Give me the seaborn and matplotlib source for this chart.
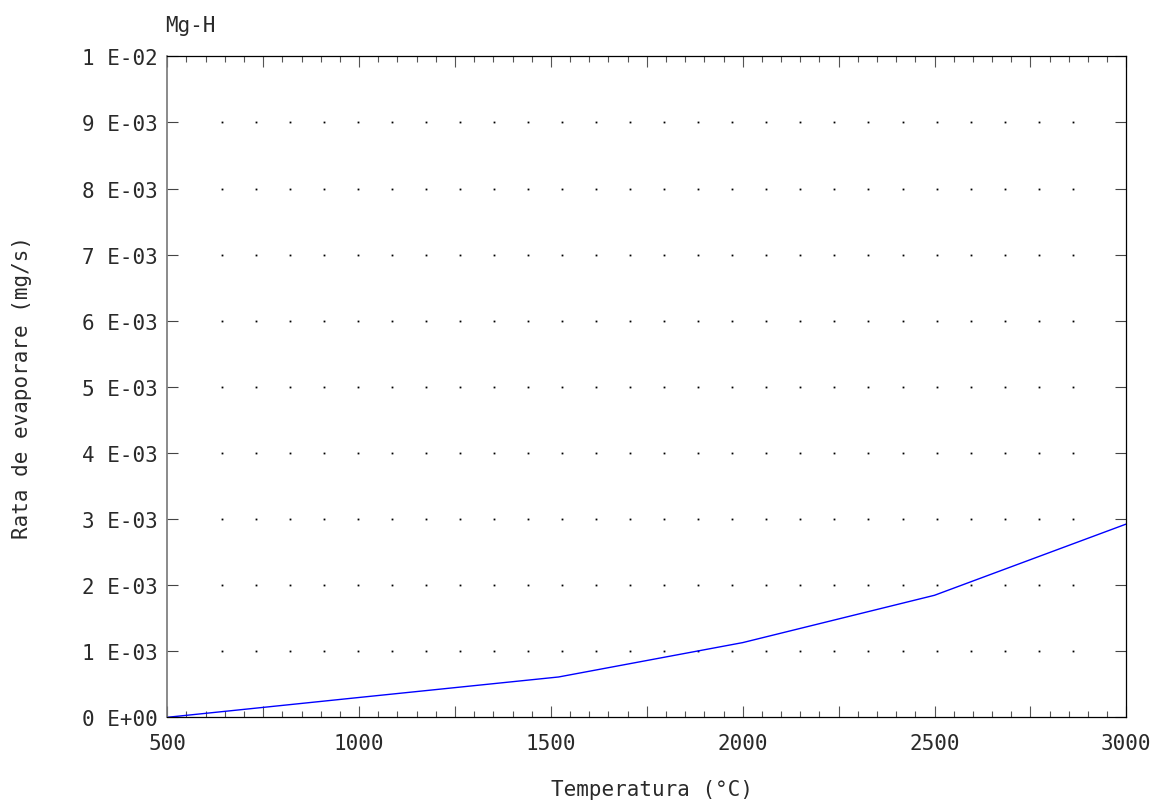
import numpy as np
import pandas as pd
import matplotlib
matplotlib.use("Agg")
import matplotlib.pyplot as plt
from matplotlib.ticker import MultipleLocator, FixedLocator, FuncFormatter
import seaborn as sns

# Evaporation rate of Mg-H versus temperature
temperature = [500, 1000, 1520, 2000, 2500, 3000]          # °C
evap_rate = [0.0, 0.30e-3, 0.61e-3, 1.13e-3, 1.846e-3, 2.924e-3]  # mg/s

title = "Mg-H"
x_label = "Temperatura (°C)"
y_label = "Rata de evaporare (mg/s)"
y_tick_values = [i * 1e-3 for i in range(11)]
y_tick_labels = ["0 E+00", "1 E-03", "2 E-03", "3 E-03", "4 E-03", "5 E-03",
                 "6 E-03", "7 E-03", "8 E-03", "9 E-03", "1 E-02"]
x_tick_values = [500, 1000, 1500, 2000, 2500, 3000]

sns.set_theme(style="white")
plt.rcParams["font.family"] = ["DejaVu Sans Mono", "DejaVu Sans"]

text_color = "#2a2a2a"
W, H = 1154, 803
fig = plt.figure(figsize=(W / 100, H / 100), dpi=100)
ax = fig.add_axes([167.3 / W, 1 - 718.3 / H, 959 / W, 661 / H])

df = pd.DataFrame({"T": temperature, "rate": evap_rate})
sns.lineplot(data=df, x="T", y="rate", ax=ax, color="#0000ff", linewidth=1.0)

# dotted reference grid at the major y levels
grid_x = np.linspace(643, 2860, 26)
gx, gy = np.meshgrid(grid_x, y_tick_values[1:-1])
ax.plot(gx.ravel(), gy.ravel(), linestyle="none", marker="s", ms=1.3,
        mew=0, color="black", zorder=1)

ax.set_xlim(500, 3000)
ax.set_ylim(0, 1e-2)

# x ticks: long every 250, short every 50, labels every 500
ax.xaxis.set_major_locator(MultipleLocator(250))
ax.xaxis.set_minor_locator(MultipleLocator(50))
ax.xaxis.set_major_formatter(FuncFormatter(
    lambda v, p: f"{int(round(v))}" if int(round(v)) in x_tick_values else ""))
ax.yaxis.set_major_locator(FixedLocator(y_tick_values))
ax.set_yticklabels(y_tick_labels)

ax.tick_params(axis="x", which="major", direction="in", length=8, width=0.8,
               top=True, bottom=True, pad=11, labelsize=15,
               colors="#555555", labelcolor=text_color)
ax.tick_params(axis="x", which="minor", direction="in", length=4.5, width=0.8,
               top=True, bottom=True, colors="#555555")
ax.tick_params(axis="y", which="major", direction="in", length=8, width=0.8,
               left=True, right=True, pad=7, labelsize=15,
               colors="#444444", labelcolor=text_color)

for side in ["top", "right", "bottom"]:
    ax.spines[side].set_color("black")
    ax.spines[side].set_linewidth(0.9)
ax.spines["left"].set_color("#777777")
ax.spines["left"].set_linewidth(1.2)

ax.set_xlabel(x_label, fontsize=15, color=text_color)
ax.xaxis.label.set_va("center")
ax.xaxis.set_label_coords(0.505, -0.1085)

ax.set_ylabel(y_label, fontsize=15, color=text_color)
ax.yaxis.label.set(ha="center", va="center", rotation_mode="anchor")
ax.yaxis.set_label_coords(-0.1515, 0.5)

ax.text(-0.002, 1.038, title, transform=ax.transAxes, fontsize=15,
        color=text_color, ha="left", va="baseline")

fig.savefig("out.png", dpi=100, facecolor="white")
